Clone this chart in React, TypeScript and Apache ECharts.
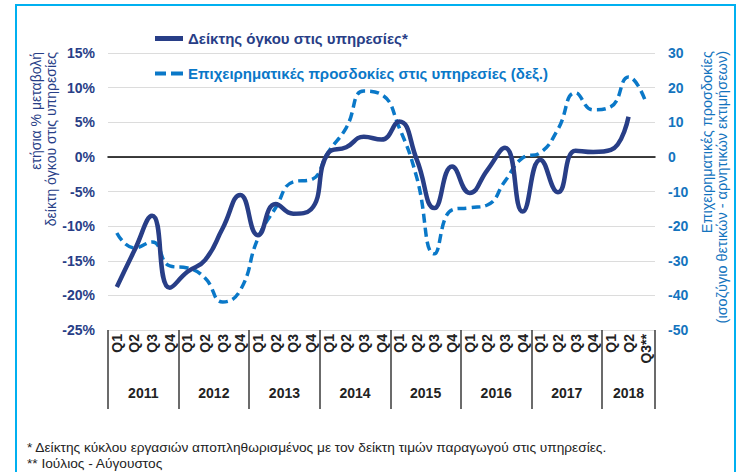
import React, { useEffect, useRef } from "react";
import * as echarts from "echarts";

// Category axis labels (quarters 2011Q1 .. 2018Q3)
const quarters = [
  "Q1", "Q2", "Q3", "Q4",
  "Q1", "Q2", "Q3", "Q4",
  "Q1", "Q2", "Q3", "Q4",
  "Q1", "Q2", "Q3", "Q4",
  "Q1", "Q2", "Q3", "Q4",
  "Q1", "Q2", "Q3", "Q4",
  "Q1", "Q2", "Q3", "Q4",
  "Q1", "Q2", "Q3**",
];
const years = ["2011", "2012", "2013", "2014", "2015", "2016", "2017", "2018"];

// Δείκτης όγκου στις υπηρεσίες (annual % change, left axis)
const volumeIndex = [
  -18.8, -13.5, -8.5, -18.9,
  -16.6, -14.9, -10.3, -5.5,
  -11.3, -6.8, -8.2, -7.6,
  0.6, 1.4, 2.9, 2.5,
  5.1, -0.4, -7.4, -1.4,
  -5.2, -1.9, 1.3, -7.9,
  -0.4, -5.1, 0.9, 0.7,
  1.0, 5.8,
];

// Επιχειρηματικές προσδοκίες στις υπηρεσίες (balance, right axis)
const expectations = [
  -22.0, -26.3, -24.6, -31.5,
  -32.1, -35.0, -41.9, -38.5,
  -23.5, -14.7, -7.2, -6.6,
  1.5, 8.4, 19.0, 18.0,
  8.5, -6.0, -28.0, -15.3,
  -14.7, -13.9, -7.0, -0.3,
  1.2, 8.0, 18.5, 13.6,
  14.5, 23.1, 15.6,
];

const S1 = "Δείκτης όγκου στις υπηρεσίες*";
const S2 = "Επιχειρηματικές προσδοκίες στις υπηρεσίες (δεξ.)";

const FONT = 'Arial, "Liberation Sans", sans-serif';
const NAVY = "#283E87";
const BLUE = "#0A78C8";
const BLUE_LABEL = "#1474BE";

export default function App() {
  const ref = useRef<HTMLDivElement>(null);

  useEffect(() => {
    const chart = echarts.init(ref.current!, null, { renderer: "svg" });

    const yearCenters: Record<string, string> = {};
    years.forEach((y, k) => {
      const start = k * 4;
      const count = Math.min(4, quarters.length - start);
      yearCenters[String(start + count / 2)] = y;
    });

    chart.setOption({
      animation: false,
      backgroundColor: "#ffffff",
      textStyle: { fontFamily: FONT },
      grid: { left: 108, right: 85, top: 53, bottom: 142 },
      legend: {
        orient: "vertical",
        left: 150,
        top: 26,
        itemWidth: 28,
        itemHeight: 14,
        itemGap: 20,
        textStyle: { fontSize: 15, fontWeight: "bold", fontFamily: FONT },
        data: [
          {
            name: S1,
            icon: "path://M0,0h28v5h-28z",
            textStyle: { color: NAVY },
          },
          {
            name: S2,
            icon: "path://M0,0h11v4h-11zM16,0h12v4h-12z",
            textStyle: { color: BLUE },
          },
        ],
      },
      xAxis: [
        {
          type: "category",
          data: quarters,
          boundaryGap: true,
          axisLine: { show: false, onZero: false },
          axisTick: {
            show: true,
            interval: (i: number) => i % 4 === 0,
            length: 79,
            lineStyle: { color: "#3a3a3a", width: 1.5 },
          },
          axisLabel: {
            interval: 0,
            rotate: 90,
            margin: 4,
            fontSize: 14,
            fontWeight: "bold",
            color: "#222",
            fontFamily: FONT,
          },
          splitLine: { show: false },
        },
        {
          type: "value",
          min: 0,
          max: quarters.length,
          interval: 0.5,
          position: "bottom",
          axisLine: { show: false, onZero: false },
          axisTick: { show: false },
          splitLine: { show: false },
          axisLabel: {
            margin: 56,
            fontSize: 14,
            fontWeight: "bold",
            color: "#222",
            fontFamily: FONT,
            showMinLabel: true,
            showMaxLabel: true,
            formatter: (v: number) => yearCenters[String(v)] || "",
          },
        },
        {
          type: "category",
          data: quarters,
          axisLine: { show: true, onZero: true, lineStyle: { color: "#000", width: 1.5 } },
          axisTick: { show: false },
          axisLabel: { show: false },
          splitLine: { show: false },
        },
      ],
      yAxis: [
        {
          type: "value",
          min: -25,
          max: 15,
          interval: 5,
          position: "left",
          axisLine: { show: false },
          axisTick: { show: false },
          splitLine: { lineStyle: { color: "#DCDCDC", width: 1 } },
          axisLabel: {
            formatter: "{value}%",
            color: NAVY,
            fontWeight: "bold",
            fontSize: 14,
            margin: 13,
            fontFamily: FONT,
          },
        },
        {
          type: "value",
          min: -50,
          max: 30,
          interval: 10,
          position: "right",
          axisLine: { show: false },
          axisTick: { show: false },
          splitLine: { show: false },
          axisLabel: {
            color: BLUE_LABEL,
            fontWeight: "bold",
            fontSize: 14,
            margin: 13,
            fontFamily: FONT,
          },
        },
      ],
      series: [
        {
          name: S2,
          type: "line",
          data: expectations,
          xAxisIndex: 0,
          yAxisIndex: 1,
          smooth: 0.5,
          symbol: "none",
          lineStyle: { color: BLUE, width: 3.5, type: [9, 5] },
          itemStyle: { color: BLUE },
          z: 2,
        },
        {
          name: S1,
          type: "line",
          data: volumeIndex,
          xAxisIndex: 0,
          yAxisIndex: 0,
          smooth: 0.5,
          symbol: "none",
          lineStyle: { color: NAVY, width: 4.5 },
          itemStyle: { color: NAVY },
          z: 3,
        },
      ],
      graphic: [
        {
          type: "rect",
          silent: true,
          shape: { x: 16, y: 5, width: 719, height: 520 },
          style: { fill: "none", stroke: "#00B0F0", lineWidth: 2 },
        },
        {
          type: "text",
          x: 36,
          y: 52,
          rotation: Math.PI / 2,
          style: {
            text: "ετήσια % μεταβολή",
            fill: NAVY,
            fontSize: 14,
            fontFamily: FONT,
            align: "right",
            verticalAlign: "middle",
          },
        },
        {
          type: "text",
          x: 51,
          y: 52,
          rotation: Math.PI / 2,
          style: {
            text: "δείκτη όγκου στις υπηρεσίες",
            fill: NAVY,
            fontSize: 14,
            fontFamily: FONT,
            align: "right",
            verticalAlign: "middle",
          },
        },
        {
          type: "text",
          x: 707,
          y: 51,
          rotation: Math.PI / 2,
          style: {
            text: "Επιχειρηματικές προσδοκίες",
            fill: BLUE_LABEL,
            fontSize: 14.5,
            fontFamily: FONT,
            align: "right",
            verticalAlign: "middle",
          },
        },
        {
          type: "text",
          x: 722,
          y: 51,
          rotation: Math.PI / 2,
          style: {
            text: "(ισοζύγιο θετικών - αρνητικών εκτιμήσεων)",
            fill: BLUE_LABEL,
            fontSize: 14.5,
            fontFamily: FONT,
            align: "right",
            verticalAlign: "middle",
          },
        },
        {
          type: "text",
          x: 27,
          y: 447,
          style: {
            text: "* Δείκτης κύκλου εργασιών αποπληθωρισμένος με τον δείκτη τιμών παραγωγού στις υπηρεσίες.",
            fill: "#222",
            fontSize: 13.7,
            fontFamily: FONT,
            align: "left",
            verticalAlign: "middle",
          },
        },
        {
          type: "text",
          x: 27,
          y: 463,
          style: {
            text: "** Ιούλιος - Αύγουστος",
            fill: "#222",
            fontSize: 13.7,
            fontFamily: FONT,
            align: "left",
            verticalAlign: "middle",
          },
        },
      ],
    });

    return () => chart.dispose();
  }, []);

  return (
    <div
      ref={ref}
      style={{ position: "absolute", left: 0, top: 0, width: 740, height: 472 }}
    />
  );
}
